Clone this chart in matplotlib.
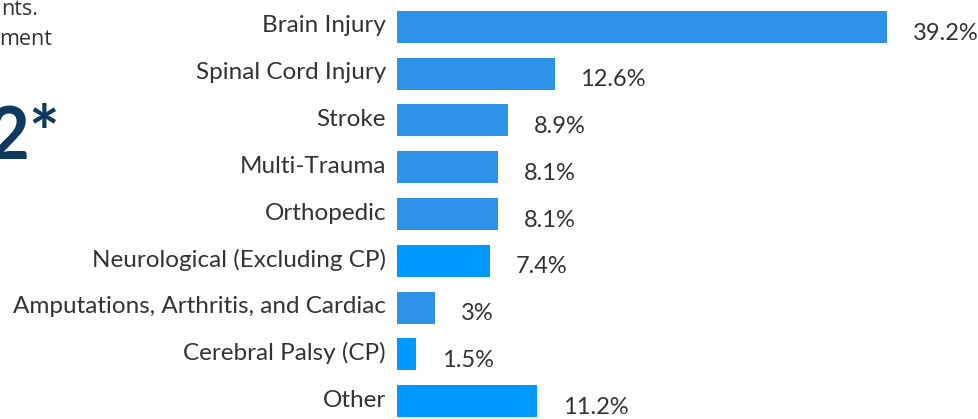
import matplotlib.pyplot as plt

categories = ['Brain Injury', 'Spinal Cord Injury', 'Stroke', 'Multi-Trauma', 'Orthopedic',
              'Neurological (Excluding CP)', 'Amputations, Arthritis, and Cardiac',
              'Cerebral Palsy (CP)', 'Other']
values = [39.2, 12.6, 8.9, 8.1, 8.1, 7.4, 3.0, 1.5, 11.2]
value_labels = ['39.2%', '12.6%', '8.9%', '8.1%', '8.1%', '7.4%', '3%', '1.5%', '11.2%']
bar_colors = ['#2E93E8', '#2E93E8', '#2E93E8', '#2E93E8', '#2E93E8',
              '#0099FF', '#2E93E8', '#0099FF', '#0099FF']

plt.rcParams['font.family'] = ['Lato', 'DejaVu Sans']
text_color = '#333333'

W, H = 979, 419
fig = plt.figure(figsize=(W / 100, H / 100), dpi=100)
ax = fig.add_axes([397 / W, 0, (W - 397) / W, 1])

pitch = 46.75
ypos = list(range(len(categories)))
ax.barh(ypos, values, height=32 / pitch, color=bar_colors)
ax.set_xlim(0, (W - 397) / 12.5)
ax.set_ylim(8 + 18 / pitch, -27 / pitch)
ax.axis('off')

px = 0.72  # points per pixel at dpi 100
for y, v, lab in zip(ypos, values, value_labels):
    ax.annotate(lab, (v, y), xytext=(26 * px, -6 * px), textcoords='offset points',
                ha='left', va='center', fontsize=17, color=text_color)
    ax.annotate(categories[y], (0, y), xytext=(-11 * px, 1 * px), textcoords='offset points',
                ha='right', va='center', fontsize=17.5, color=text_color)

# cropped text from the left panel
fig.text(38 / W, 1 - 15 / H, 'nts.', ha='right', va='baseline', fontsize=15.5,
         color=text_color, family='Open Sans')
fig.text(52 / W, 1 - 45 / H, 'ment', ha='right', va='baseline', fontsize=15.5,
         color=text_color, family='Open Sans')
fig.text(60 / W, 1 - 159 / H, '2*', ha='right', va='baseline', fontsize=52,
         fontweight='bold', color='#0E3A5F')

fig.savefig('out.png', dpi=100)
